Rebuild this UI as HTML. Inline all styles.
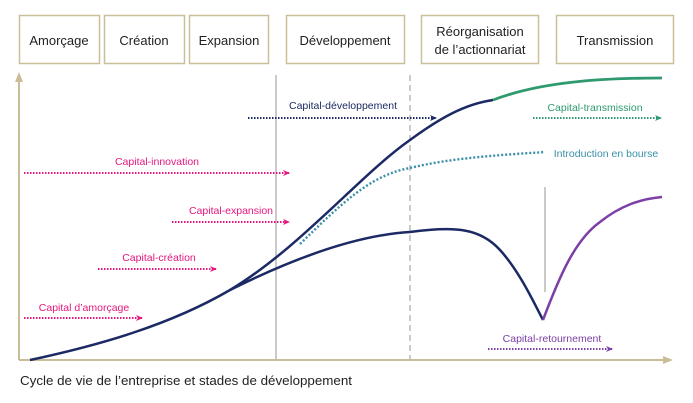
<!DOCTYPE html>
<html><head><meta charset="utf-8"><style>
body{margin:0;background:#fff;width:693px;height:403px;overflow:hidden}
svg{display:block;font-family:"Liberation Sans",sans-serif}
</style></head><body>
<svg width="693" height="403" viewBox="0 0 693 403">
<defs>
<marker id="ap" markerWidth="8" markerHeight="8" refX="6" refY="4" orient="auto" markerUnits="userSpaceOnUse"><path d="M0,1 L7,4 L0,7 L2,4z" fill="#e5167d"/></marker>
<marker id="an" markerWidth="8" markerHeight="8" refX="6" refY="4" orient="auto" markerUnits="userSpaceOnUse"><path d="M0,1 L7,4 L0,7 L2,4z" fill="#1b2a64"/></marker>
<marker id="ag" markerWidth="8" markerHeight="8" refX="6" refY="4" orient="auto" markerUnits="userSpaceOnUse"><path d="M0,1 L7,4 L0,7 L2,4z" fill="#2e9a6e"/></marker>
<marker id="av" markerWidth="8" markerHeight="8" refX="6" refY="4" orient="auto" markerUnits="userSpaceOnUse"><path d="M0,1 L7,4 L0,7 L2,4z" fill="#7b3fa5"/></marker>
</defs>
<g fill="#fff" stroke="#cbbf9a" stroke-width="1.5">
<rect x="19.5" y="15.5" width="80" height="48"/>
<rect x="104.5" y="15.5" width="80" height="48"/>
<rect x="189.5" y="15.5" width="79" height="48"/>
<rect x="286.5" y="15.5" width="118" height="48"/>
<rect x="421.5" y="15.5" width="117" height="48"/>
<rect x="556.5" y="15.5" width="117" height="48"/>
</g>
<g font-size="13" fill="#222" text-anchor="middle">
<text x="59" y="45">Amorçage</text>
<text x="144" y="45">Création</text>
<text x="229" y="45">Expansion</text>
<text x="345" y="45">Développement</text>
<text x="480" y="36">Réorganisation</text>
<text x="480" y="54">de l’actionnariat</text>
<text x="615" y="45">Transmission</text>
</g>
<g stroke="#c9bd98" stroke-width="2" fill="#c9bd98">
<line x1="19" y1="360" x2="19" y2="80"/>
<path d="M15,82 L19,72 L23,82z" stroke="none"/>
<line x1="19" y1="360" x2="665" y2="360"/>
<path d="M663,356 L673,360 L663,364z" stroke="none"/>
</g>
<line x1="276" y1="75" x2="276" y2="359" stroke="#b8b8b8" stroke-width="1.5"/>
<line x1="410" y1="75" x2="410" y2="359" stroke="#b8b8b8" stroke-width="1.5" stroke-dasharray="6,4"/>
<line x1="545" y1="187" x2="545" y2="292" stroke="#b8b8b8" stroke-width="1.5"/>
<path d="M300,244 C340,205 370,175 410,168 C450,158 500,155 545,152" fill="none" stroke="#3a8fa8" stroke-width="2.4" stroke-dasharray="2,2"/>
<path d="M30,360 C100,345 170,325 230,290 C300,248 360,175 410,140 C440,118 465,104 493,100" fill="none" stroke="#1b2a64" stroke-width="2.5"/>
<path d="M493,100 C540,82 600,78 662,78" fill="none" stroke="#2e9a6e" stroke-width="2.8"/>
<path d="M230,290 C300,255 360,235 410,232 C455,226 480,228 500,250 C520,272 535,305 543,320" fill="none" stroke="#1b2a64" stroke-width="2.5"/>
<path d="M543,320 C560,275 575,240 600,222 C620,206 640,199 662,197" fill="none" stroke="#7b3fa5" stroke-width="2.5"/>
<g stroke-width="2" stroke-dasharray="1.5,1.5" fill="none">
<line x1="248" y1="118" x2="436" y2="118" stroke="#1b2a64" marker-end="url(#an)"/>
<line x1="533" y1="118" x2="661" y2="118" stroke="#2e9a6e" marker-end="url(#ag)"/>
<line x1="24" y1="173" x2="289" y2="173" stroke="#e5167d" marker-end="url(#ap)"/>
<line x1="172" y1="222" x2="289" y2="222" stroke="#e5167d" marker-end="url(#ap)"/>
<line x1="98" y1="269" x2="216" y2="269" stroke="#e5167d" marker-end="url(#ap)"/>
<line x1="24" y1="318" x2="142" y2="318" stroke="#e5167d" marker-end="url(#ap)"/>
<line x1="488" y1="349" x2="612" y2="349" stroke="#7b3fa5" marker-end="url(#av)"/>
</g>
<g font-size="10.5" text-anchor="middle">
<text x="343" y="109" fill="#1b2a64">Capital-développement</text>
<text x="595" y="111" fill="#2e9a6e">Capital-transmission</text>
<text x="606" y="157" fill="#3a8fa8">Introduction en bourse</text>
<text x="157" y="165" fill="#e5167d">Capital-innovation</text>
<text x="231" y="214" fill="#e5167d">Capital-expansion</text>
<text x="159" y="261" fill="#e5167d">Capital-création</text>
<text x="84" y="311" fill="#e5167d">Capital d’amorçage</text>
<text x="552" y="342" fill="#7b3fa5">Capital-retournement</text>
</g>
<text x="20" y="385" font-size="13" fill="#222" textLength="332" lengthAdjust="spacingAndGlyphs">Cycle de vie de l’entreprise et stades de développement</text>
</svg>
</body></html>
